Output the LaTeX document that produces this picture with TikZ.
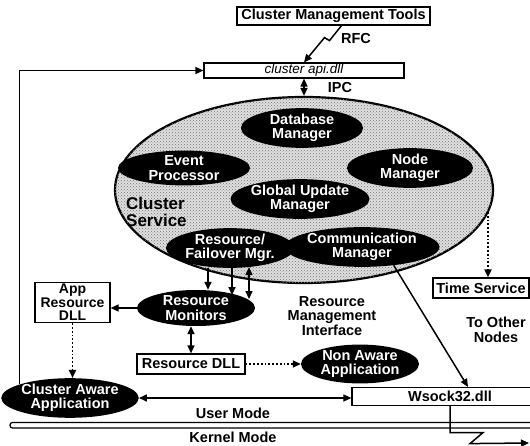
\documentclass[tikz,border=0pt]{standalone}
\usepackage{fontspec}
\setmainfont{Liberation Sans}
\usetikzlibrary{arrows.meta,patterns,shapes.geometric,calc}
\begin{document}
\begin{tikzpicture}[x=1pt,y=1pt,
  txt/.style={font=\bfseries\fontsize{14.5}{14.5}\selectfont, align=center, inner sep=0pt},
  bx/.style={txt, draw, line width=1.2pt, fill=white},
  oval/.style={txt, ellipse, fill=black, text=white},
  arr/.style={line width=1.5pt, -{Triangle[length=8pt,width=7pt]}},
  darr/.style={line width=1.5pt, {Triangle[length=8pt,width=7pt]}-{Triangle[length=8pt,width=7pt]}},
  dotarr/.style={line width=1.8pt, dotted, -{Triangle[length=8pt,width=7pt]}},
]
\useasboundingbox (0,0) rectangle (530,-446);
\clip (0,0) rectangle (530,-446);

% cluster service ellipse
\node[ellipse, minimum width=378, minimum height=186, inner sep=0pt, draw, line width=2.2pt,
      fill=black!12, postaction={pattern=crosshatch dots, pattern color=black!55}] (cs) at (304,-190) {};

% top boxes
\node[bx, minimum width=193, minimum height=18] (cmt) at (333.5,-16) {Cluster Management Tools};
\node[bx, minimum width=200, minimum height=15, font=\itshape\fontsize{13.5}{14}\selectfont] (api) at (304,-70.5) {cluster api.dll};
\node[txt] (rfc) at (356,-39) {RFC};
\node[txt] (ipc) at (340,-88) {IPC};

% components
\node[oval, minimum width=122, minimum height=34] (db) at (302,-128) {Database\\Manager};
\node[oval, minimum width=132, minimum height=34] (ep) at (184,-168) {Event\\Processor};
\node[oval, minimum width=126, minimum height=34] (nm) at (410,-168) {Node\\Manager};
\node[oval, minimum width=126, minimum height=36] (gum) at (300,-199) {Global Update\\Manager};
\node[oval, minimum width=128, minimum height=38] (rfm) at (230,-248) {Resource/\\Failover Mgr.};
\node[oval, minimum width=128, minimum height=38] (comm) at (362,-247) {Communication\\Manager};
\node[font=\bfseries\fontsize{17}{17}\selectfont, align=left, anchor=west, inner sep=0pt] (cst) at (126,-212) {Cluster\\Service};

% lower part
\node[bx, minimum width=75, minimum height=40, font=\bfseries\fontsize{14}{13.5}\selectfont] (app) at (72.5,-302.5) {App\\Resource\\DLL};
\node[oval, minimum width=118, minimum height=36] (rmon) at (196,-308) {Resource\\Monitors};
\node[bx, minimum width=108, minimum height=20] (rdll) at (191,-364) {Resource DLL};
\node[oval, minimum width=118, minimum height=30] (na) at (360,-364) {Non Aware\\Application};
\node[txt] (rmi) at (332,-316) {Resource\\Management\\Interface};
\node[oval, minimum width=130, minimum height=35] (caa) at (70,-398) {Cluster Aware\\Application};
\node[bx, minimum width=196, minimum height=18] (ws) at (450,-396.5) {Wsock32.dll};
\node[bx, minimum width=96, minimum height=20] (ts) at (481,-288) {Time Service};
\node[txt] (ton) at (496,-330) {To Other\\Nodes};
\node[txt] (um) at (233,-413) {User Mode};
\node[txt] (km) at (233,-437) {Kernel Mode};

% user/kernel boundary
\draw[line width=1.2pt, rounded corners=2.5pt] (10,-422.5) rectangle (545,-428);

% connectors
\draw[arr] (caa.165) |- (api.west);
\draw[arr] ([xshift=8pt]cmt.south) -- ++(-12,-15) -- ++(-5,3) -- (api.north);
\draw[darr] (api.south) -- (api.south |- cs.north);
\draw[arr] ([xshift=-22pt]rfm.south) -- ([xshift=-22pt]rfm.south |- rmon.north);
\draw[arr] ([xshift=2pt]rfm.south) -- ++(0,-27);
\draw[darr] ([xshift=19pt,yshift=1pt]rfm.south) -- ++(0,-32);
\draw[arr] (rmon.west) -- (rmon.west -| app.east);
\draw[dotarr] (app.south) -- (app.south |- caa.north);
\draw[darr] (rmon.south -| rdll.north) -- (rdll.north);
\draw[dotarr] (rdll.east) -- (na.west);
\draw[arr] (comm.-30) -- ([xshift=18pt]ws.north);
\coordinate (tsin) at (488,-212);
\draw[dotarr] (tsin) -- (tsin |- ts.north);
\draw[darr] (caa.east) -- (caa.east -| ws.west);
\coordinate (kout) at (529,-443);
\draw[arr] (ws.south) -- ++(0,-26.5) -- ++(33,0) -- ++(-13,-11) -- (kout);
\end{tikzpicture}
\end{document}
